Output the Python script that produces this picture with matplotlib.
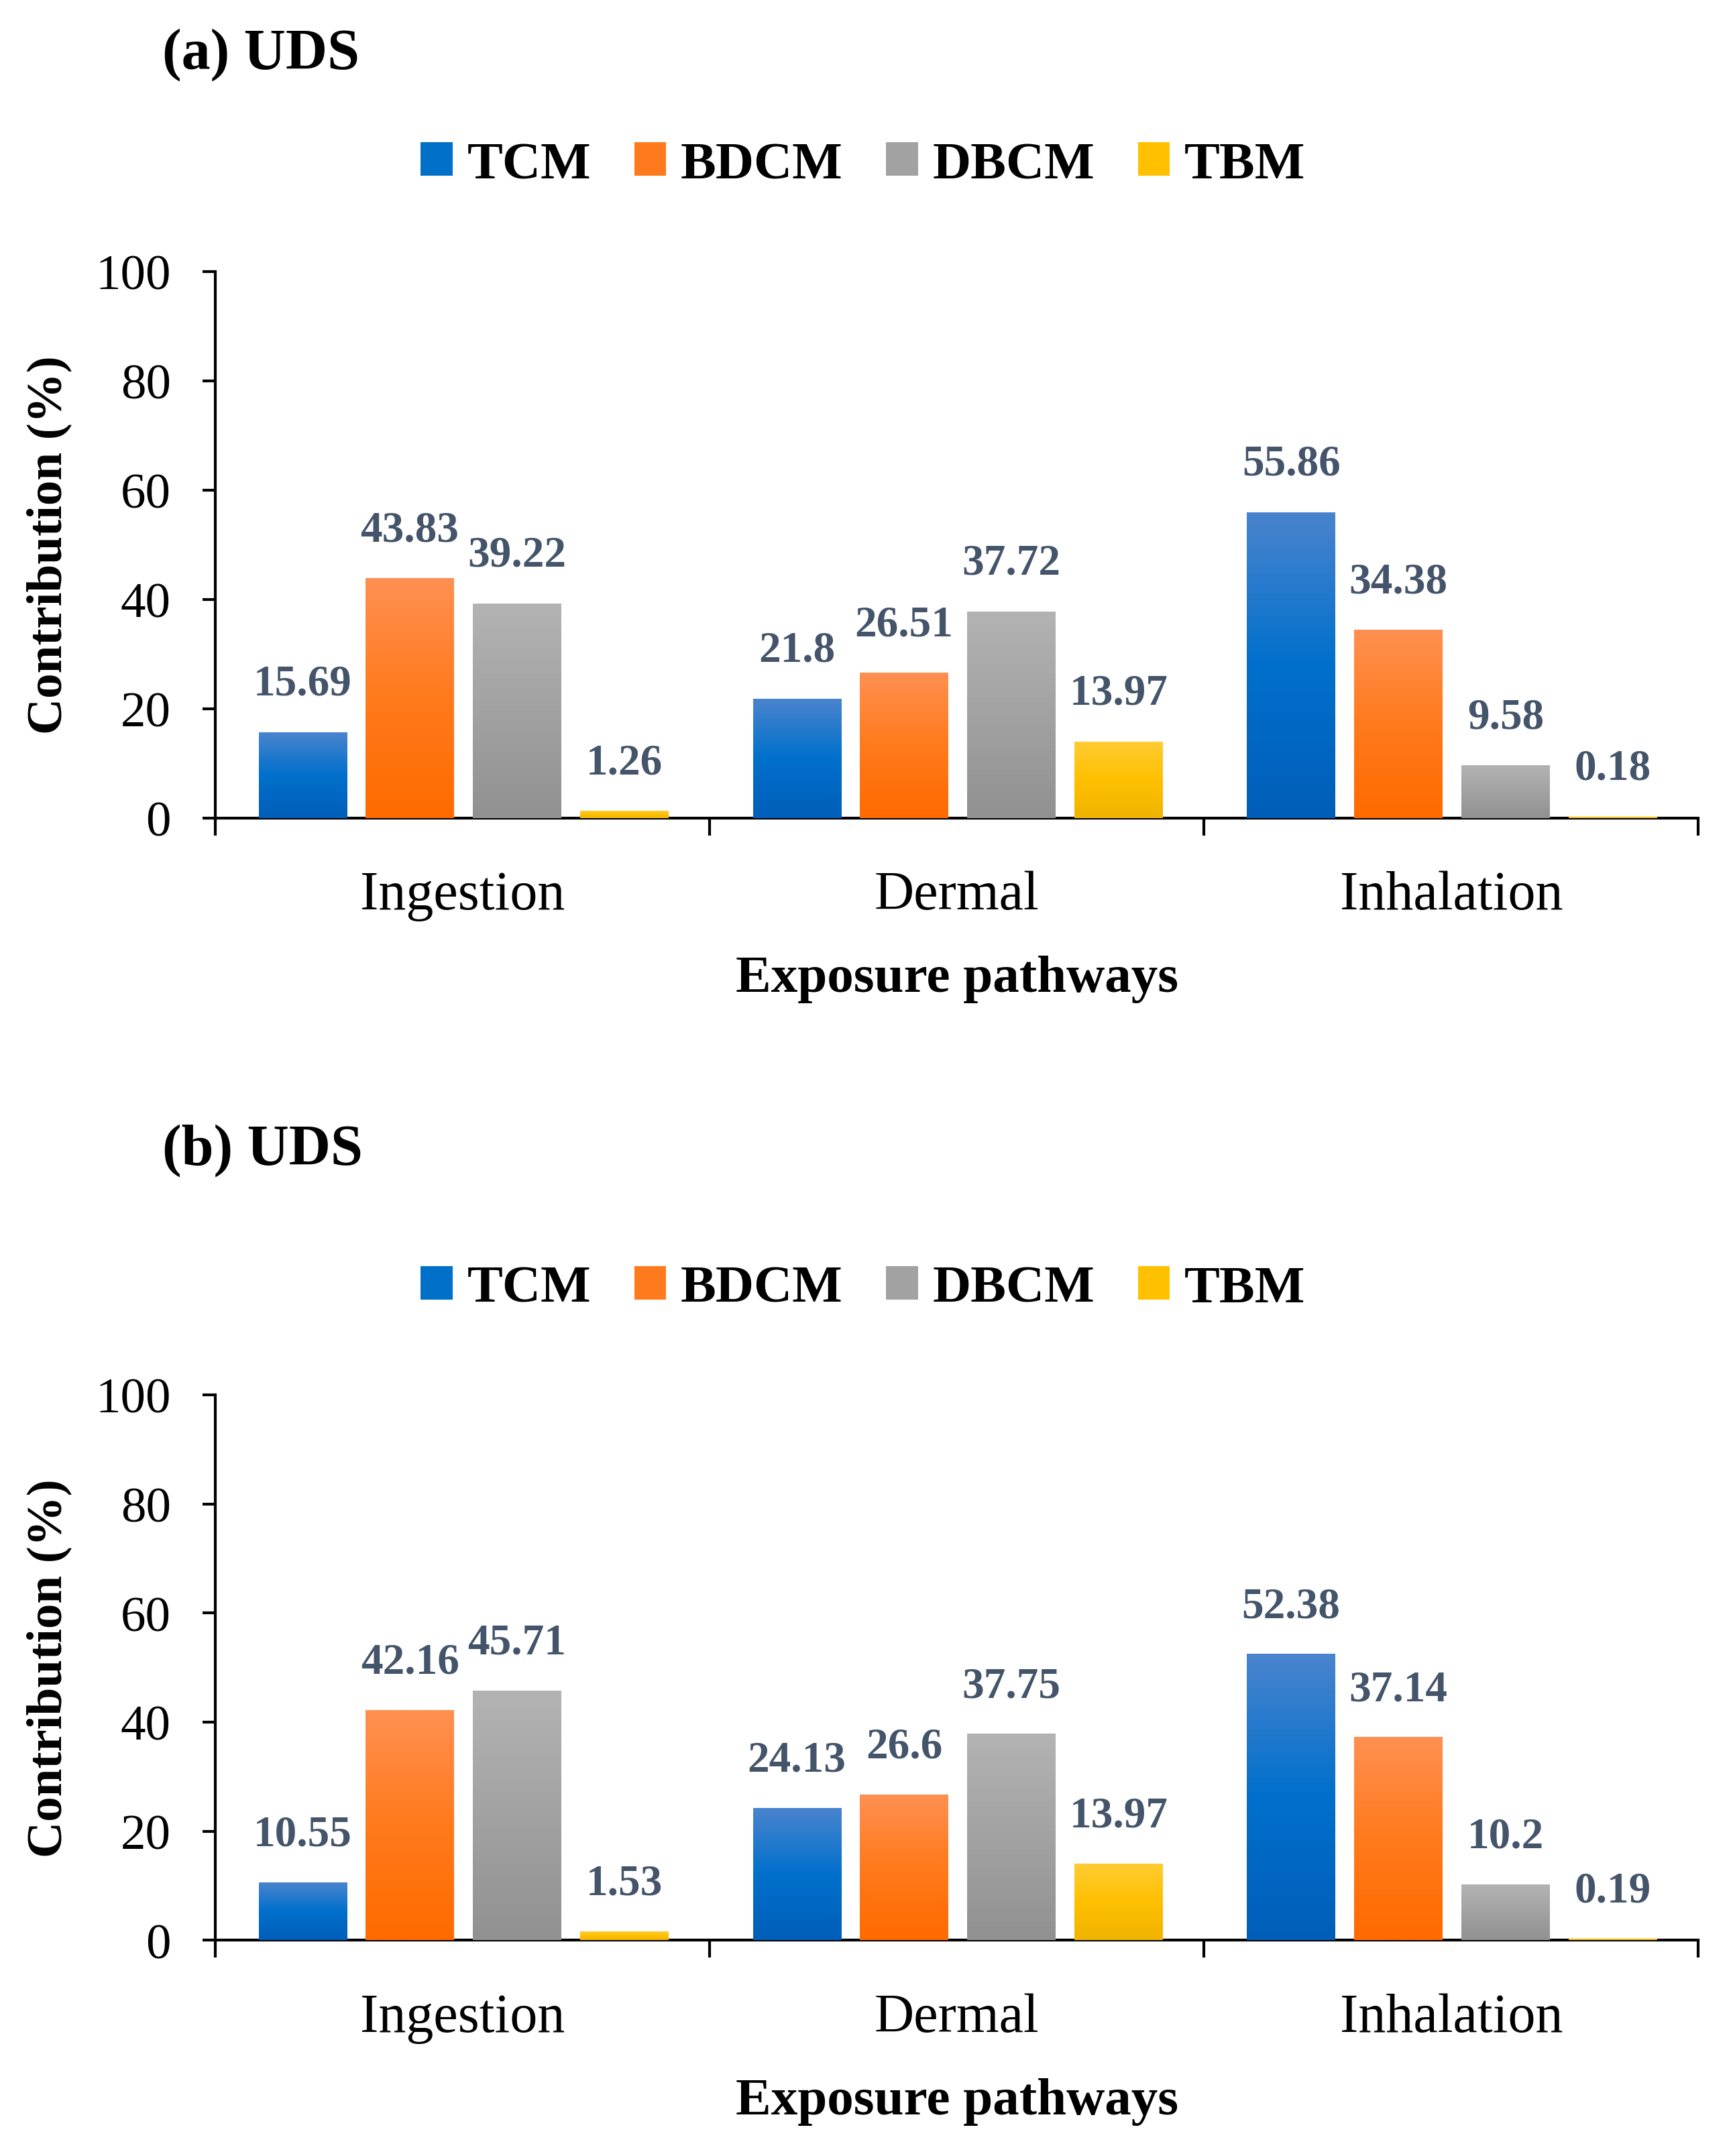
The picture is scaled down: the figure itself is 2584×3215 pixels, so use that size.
import matplotlib
matplotlib.use("Agg")
import matplotlib.pyplot as plt
import numpy as np
from matplotlib.colors import LinearSegmentedColormap
from matplotlib.patches import Patch

plt.rcParams['font.family'] = ['Liberation Serif', 'DejaVu Serif']

# data
pathways = ['Ingestion', 'Dermal', 'Inhalation']
compounds = ['TCM', 'BDCM', 'DBCM', 'TBM']

panel_a = {
    'TCM': [15.69, 21.8, 55.86],
    'BDCM': [43.83, 26.51, 34.38],
    'DBCM': [39.22, 37.72, 9.58],
    'TBM': [1.26, 13.97, 0.18],
}
panel_b = {
    'TCM': [10.55, 24.13, 52.38],
    'BDCM': [42.16, 26.6, 37.14],
    'DBCM': [45.71, 37.75, 10.2],
    'TBM': [1.53, 13.97, 0.19],
}
label_a = ['15.69', '21.8', '55.86', '43.83', '26.51', '34.38',
           '39.22', '37.72', '9.58', '1.26', '13.97', '0.18']
label_b = ['10.55', '24.13', '52.38', '42.16', '26.6', '37.14',
           '45.71', '37.75', '10.2', '1.53', '13.97', '0.19']

# gradient stops (bottom -> top)
grad = {
    'TCM': ['#005EB8', '#0070CC', '#4A84CE'],
    'BDCM': ['#FF6A00', '#FF7A1C', '#FF9052'],
    'DBCM': ['#919191', '#A2A2A2', '#B3B3B3'],
    'TBM': ['#F0B400', '#FFC000', '#FFCC33'],
}
solid = {'TCM': '#0070C8', 'BDCM': '#FF7A1C', 'DBCM': '#A2A2A2', 'TBM': '#FFC000'}
label_color = '#44546A'

width = 0.178
offsets = [-0.324, -0.107, 0.110, 0.327]


def draw_panel(ax, data, labels, title, title_y, legend_y, fig):
    x = np.arange(len(pathways))
    k = 0
    for i, c in enumerate(compounds):
        bars = ax.bar(x + offsets[i], data[c], width, color=solid[c], zorder=2)
        cmap = LinearSegmentedColormap.from_list(c, grad[c])
        g = np.linspace(0, 1, 256).reshape(-1, 1)
        for b in bars:
            x0 = b.get_x()
            h = b.get_height()
            ax.imshow(g, extent=[x0, x0 + b.get_width(), 0, h], aspect='auto',
                      cmap=cmap, origin='lower', zorder=3, interpolation='bilinear')
        for j, b in enumerate(bars):
            ax.text(b.get_x() + b.get_width() / 2, b.get_height() + 5.2, labels[k + j],
                    ha='center', va='bottom', fontsize=23.5, fontweight='bold',
                    color=label_color, zorder=4)
        k += len(bars)

    ax.set_xlim(-0.5, 2.5)
    ax.set_ylim(0, 100)
    ax.set_yticks(np.arange(0, 101, 20))
    ax.set_xticks(x)
    ax.set_xticklabels(pathways, fontsize=29.5)
    ax.set_xticks(np.arange(-0.5, 2.6, 1), minor=True)
    ax.tick_params(axis='x', which='major', length=0, pad=28)
    ax.tick_params(axis='x', which='minor', length=9.5, width=1.5, direction='out')
    ax.tick_params(axis='y', length=7, width=1.5, direction='out', labelsize=27, pad=17)
    for s in ['top', 'right']:
        ax.spines[s].set_visible(False)
    for s in ['left', 'bottom']:
        ax.spines[s].set_linewidth(1.5)
    ax.set_ylabel('Contribution (%)', fontsize=27, fontweight='bold')
    ax.yaxis.set_label_coords(-0.097, 0.5)
    ax.set_xlabel('Exposure pathways', fontsize=28.5, fontweight='bold')
    ax.xaxis.set_label_coords(0.5, -0.251)

    fig.text(0.0935, title_y, title, fontsize=31, fontweight='bold', va='center', ha='left')
    handles = [Patch(facecolor=solid[c], label=c) for c in compounds]
    fig.legend(handles=handles, loc='center', bbox_to_anchor=(0.498, legend_y), ncol=4,
               frameon=False, prop={'size': 28.5, 'weight': 'bold'},
               handlelength=0.6, handleheight=0.6, handletextpad=0.27,
               columnspacing=0.82)


fig = plt.figure(figsize=(12.92, 16.08), dpi=200)
ax1 = fig.add_axes([0.1244, 0.6204, 0.8556, 0.2535])
ax2 = fig.add_axes([0.1244, 0.1000, 0.8556, 0.2529])

draw_panel(ax1, panel_a, label_a, '(a) UDS', 0.9745, 0.923, fig)
draw_panel(ax2, panel_b, label_b, '(b) UDS', 0.4665, 0.4019, fig)

fig.savefig('out.png', dpi=200)
